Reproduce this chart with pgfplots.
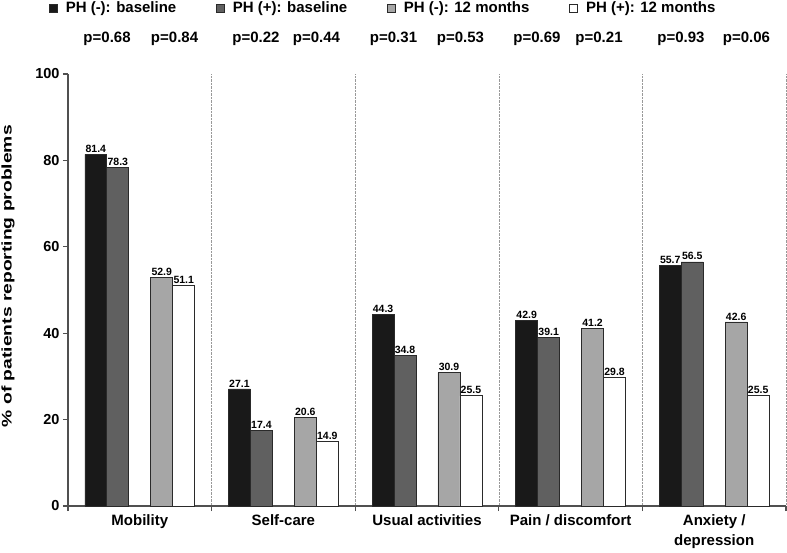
\documentclass[border=0pt]{standalone}
\usepackage{fontspec}
\setmainfont{Liberation Sans}
\usepackage{graphicx}
\usepackage{pgfplots}
\pgfplotsset{compat=1.18}

\definecolor{cA}{HTML}{191919}
\definecolor{cB}{HTML}{606060}
\definecolor{cC}{HTML}{A6A6A6}
\definecolor{cD}{HTML}{FFFFFF}
\definecolor{edge}{HTML}{2A2A2A}
\definecolor{axc}{HTML}{505050}

\begin{document}
\begin{tikzpicture}[font=\bfseries]
\path[use as bounding box] (-68pt,-46pt) rectangle (719pt,506pt);
\begin{axis}[
  at={(0pt,0pt)}, anchor=south west,
  scale only axis, width=718pt, height=432pt,
  xmin=-0.5, xmax=4.5, ymin=0, ymax=100,
  clip=false,
  axis x line=bottom, axis y line=left,
  axis line style={-, draw=axc, line width=1.3pt},
  ytick={0,20,...,100},
  xtick={0,...,4},
  xticklabels={Mobility, Self-care, Usual activities, Pain / discomfort, {Anxiety /\\depression}},
  xticklabel style={align=center, font=\fontsize{15}{20}\selectfont\bfseries},
  yticklabel style={font=\fontsize{14.5}{17}\selectfont\bfseries},
  /pgf/number format/assume math mode=true,
  major x tick style={draw=none},
  minor xtick={-0.5,0.5,...,4.5},
  xminorgrids,
  minor grid style={densely dotted, black!40, line width=0.6pt},
  tick align=outside, major tick length=5pt, minor tick length=5pt,
  every tick/.style={axc, line width=1.2pt},
  ylabel={\resizebox{302pt}{\height}{\fontsize{14}{16}\selectfont\bfseries\% of patients reporting problems}},
  ylabel style={at={(axis description cs:-0.0836,0.532)}, anchor=center},
  legend style={at={(rel axis cs:-0.0265,1.1528)}, anchor=west, draw=none, fill=none, inner sep=0pt,
    font=\fontsize{15}{18}\selectfont\bfseries, legend columns=4,
    /tikz/every odd column/.append style={column sep=6pt},
    /tikz/every even column/.append style={column sep=38pt}},
  legend image code/.code={\draw[#1, line width=0.6pt] (0pt,-4pt) rectangle (8pt,4pt);},
  mybar/.style={ybar, bar shift=0pt, bar width=0.153, draw=edge, line width=0.7pt,
    nodes near coords={\pgfmathprintnumber[fixed,fixed zerofill,precision=1,assume math mode=true]{\pgfplotspointmeta}},
    nodes near coords style={font=\fontsize{10.5}{12}\selectfont\bfseries, inner sep=1.5pt, anchor=south}},
]
\addplot[mybar, fill=cA] coordinates {(-0.306,81.4) (0.694,27.1) (1.694,44.3) (2.694,42.9) (3.694,55.7)};
\addlegendentry{PH (-): baseline}
\addplot[mybar, fill=cB] coordinates {(-0.153,78.3) (0.847,17.4) (1.847,34.8) (2.847,39.1) (3.847,56.5)};
\addlegendentry{PH (+): baseline}
\addplot[mybar, fill=cC] coordinates {(0.153,52.9) (1.153,20.6) (2.153,30.9) (3.153,41.2) (4.153,42.6)};
\addlegendentry{PH (-): 12 months}
\addplot[mybar, fill=cD] coordinates {(0.306,51.1) (1.306,14.9) (2.306,25.5) (3.306,29.8) (4.306,25.5)};
\addlegendentry{PH (+): 12 months}

\begin{scope}[every node/.style={font=\fontsize{15}{18}\selectfont\bfseries}]
\node at (axis cs:-0.228,108.2) {p=0.68};
\node at (axis cs:0.242,108.2) {p=0.84};
\node at (axis cs:0.809,108.2) {p=0.22};
\node at (axis cs:1.230,108.2) {p=0.44};
\node at (axis cs:1.767,108.2) {p=0.31};
\node at (axis cs:2.233,108.2) {p=0.53};
\node at (axis cs:2.766,108.2) {p=0.69};
\node at (axis cs:3.198,108.2) {p=0.21};
\node at (axis cs:3.769,108.2) {p=0.93};
\node at (axis cs:4.225,108.2) {p=0.06};
\end{scope}
\end{axis}
\end{tikzpicture}
\end{document}
